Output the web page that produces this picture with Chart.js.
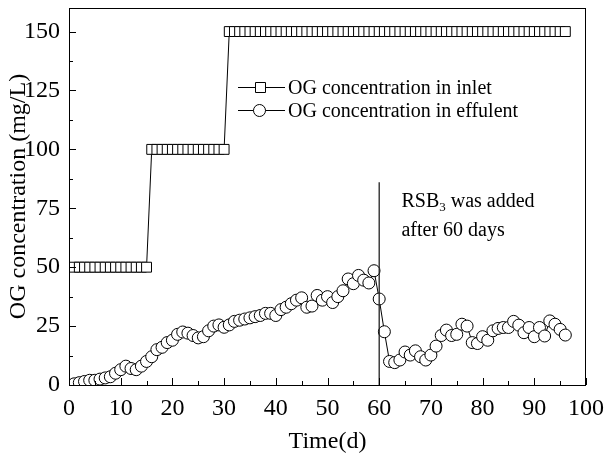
<!DOCTYPE html>
<html>
<head>
<meta charset="utf-8">
<script src="https://cdn.jsdelivr.net/npm/chart.js@4.4.1/dist/chart.umd.min.js"></script>
<style>
  html, body { margin: 0; padding: 0; background: #fff; }
</style>
</head>
<body>
<canvas id="ogChart" width="606" height="460"></canvas>
<script>
// days of operation (one sample per day)
const days = [1, 2, 3, 4, 5, 6, 7, 8, 9, 10, 11, 12, 13, 14, 15, 16, 17, 18, 19, 20,
  21, 22, 23, 24, 25, 26, 27, 28, 29, 30, 31, 32, 33, 34, 35, 36, 37, 38, 39, 40,
  41, 42, 43, 44, 45, 46, 47, 48, 49, 50, 51, 52, 53, 54, 55, 56, 57, 58, 59, 60,
  61, 62, 63, 64, 65, 66, 67, 68, 69, 70, 71, 72, 73, 74, 75, 76, 77, 78, 79, 80,
  81, 82, 83, 84, 85, 86, 87, 88, 89, 90, 91, 92, 93, 94, 95, 96];

const inlet = [50, 50, 50, 50, 50, 50, 50, 50, 50, 50, 50, 50, 50, 50, 50,
  100, 100, 100, 100, 100, 100, 100, 100, 100, 100, 100, 100, 100, 100, 100,
  150, 150, 150, 150, 150, 150, 150, 150, 150, 150, 150, 150, 150, 150, 150,
  150, 150, 150, 150, 150, 150, 150, 150, 150, 150, 150, 150, 150, 150, 150,
  150, 150, 150, 150, 150, 150, 150, 150, 150, 150, 150, 150, 150, 150, 150,
  150, 150, 150, 150, 150, 150, 150, 150, 150, 150, 150, 150, 150, 150, 150,
  150, 150, 150, 150, 150, 150];

const effluent = [0.5, 1, 1.5, 2, 2, 2.5, 3, 3.5, 5, 6.5,
  8, 7, 6.5, 8, 10, 12, 15, 16, 18, 19,
  21.5, 22.5, 22, 21, 20, 20.5, 23, 25, 25.5, 24.5,
  25.5, 27, 27.5, 28, 28.5, 29, 29.5, 30.4, 30.4, 29.5,
  32, 33, 34.5, 36, 37, 33, 33.5, 38, 36, 37.5,
  35, 37.5, 40, 45, 43, 46.5, 44.5, 43.3, 48.5, 36.5,
  22.6, 10, 9.5, 10.6, 14, 12.7, 14.5, 12, 10.6, 12.7,
  16.5, 21, 23.3, 21, 21.5, 25.8, 25, 18, 17.6, 20.5,
  19, 23, 24, 24.4, 24.4, 27, 25.4, 22.2, 24.4, 20.5,
  24.4, 20.8, 27.2, 25.8, 23.6, 21.2];

// vertical marker: RSB3 added on day 60
const markerDays = [60, 60];
const markerValues = [0, 86];

const xTicks = [0, 10, 20, 30, 40, 50, 60, 70, 80, 90, 100];
const yTicks = [0, 25, 50, 75, 100, 125, 150];

const seriesNames = ['OG concentration in inlet', 'OG concentration in effulent'];

const serif = "'Liberation Serif', 'Times New Roman', serif";
Chart.defaults.font.family = serif;
Chart.defaults.color = '#000';

function toPoints(xs, ys) {
  return xs.map((d, i) => ({ x: d, y: ys[i] }));
}

// frame, inward ticks, legend and note
const decorations = {
  id: 'decorations',
  afterDraw(chart) {
    const { ctx, chartArea: a, scales: { x, y } } = chart;
    ctx.save();
    ctx.strokeStyle = '#000';
    ctx.lineWidth = 1;
    ctx.strokeRect(a.left + 0.5, a.top + 0.5, a.right - a.left - 1, a.bottom - a.top);

    ctx.beginPath();
    xTicks.forEach((v, i) => {
      const px = Math.round(x.getPixelForValue(v)) + 0.5;
      ctx.moveTo(px, a.bottom); ctx.lineTo(px, a.bottom - 7);
      if (i < xTicks.length - 1) {
        const mx = Math.round(x.getPixelForValue((v + xTicks[i + 1]) / 2)) + 0.5;
        ctx.moveTo(mx, a.bottom); ctx.lineTo(mx, a.bottom - 4);
      }
    });
    yTicks.forEach((v, i) => {
      const py = Math.round(y.getPixelForValue(v)) + 0.5;
      ctx.moveTo(a.left, py); ctx.lineTo(a.left + 7, py);
      if (i < yTicks.length - 1) {
        const my = Math.round(y.getPixelForValue((v + yTicks[i + 1]) / 2)) + 0.5;
        ctx.moveTo(a.left, my); ctx.lineTo(a.left + 4, my);
      }
    });
    ctx.stroke();

    // legend
    const lx = a.left + 169, ly = a.top + 79;
    ctx.font = '20px ' + serif;
    ctx.textBaseline = 'middle';
    ctx.fillStyle = '#000';
    [0, 1].forEach(i => {
      const yy = ly + i * 23 + 0.5;
      ctx.beginPath();
      ctx.moveTo(lx, yy); ctx.lineTo(lx + 47, yy);
      ctx.stroke();
      ctx.fillStyle = '#fff';
      ctx.beginPath();
      if (i === 0) {
        ctx.rect(lx + 17.5, yy - 5, 10, 10);
      } else {
        ctx.arc(lx + 21.5, yy, 6, 0, Math.PI * 2);
      }
      ctx.fill(); ctx.stroke();
      ctx.fillStyle = '#000';
      ctx.fillText(seriesNames[i], lx + 50, yy + 1);
    });

    // note next to the marker line
    const nx = x.getPixelForValue(64.3);
    ctx.font = '20px ' + serif;
    ctx.fillText('RSB', nx, 202);
    let w = ctx.measureText('RSB').width;
    ctx.font = '13px ' + serif;
    ctx.fillText('3', nx + w, 208);
    w += ctx.measureText('3').width;
    ctx.font = '20px ' + serif;
    ctx.fillText(' was added', nx + w, 202);
    ctx.fillText('after 60 days', nx, 231);
    ctx.restore();
  }
};

new Chart(document.getElementById('ogChart'), {
  type: 'line',
  data: {
    datasets: [{
      label: 'RSB3 added',
      data: toPoints(markerDays, markerValues),
      borderColor: '#222',
      borderWidth: 1.3,
      pointRadius: 0,
      order: 0
    }, {
      label: seriesNames[1],
      data: toPoints(days, effluent),
      borderColor: '#000',
      borderWidth: 1,
      pointStyle: 'circle',
      pointRadius: 6,
      pointBackgroundColor: '#fff',
      pointBorderColor: '#000',
      pointBorderWidth: 1,
      order: 1
    }, {
      label: seriesNames[0],
      data: toPoints(days, inlet),
      borderColor: '#000',
      borderWidth: 1,
      pointStyle: 'rect',
      pointRadius: 7,
      pointBackgroundColor: '#fff',
      pointBorderColor: '#000',
      pointBorderWidth: 1,
      order: 2
    }]
  },
  options: {
    responsive: false,
    animation: false,
    layout: { padding: { top: 7, right: 20, left: 0, bottom: 0 } },
    plugins: { legend: { display: false }, tooltip: { enabled: false } },
    scales: {
      x: {
        type: 'linear',
        min: 0,
        max: 100,
        afterBuildTicks: s => { s.ticks = xTicks.map(v => ({ value: v })); },
        afterFit: s => { s.height = 75; s.paddingLeft = 0; s.paddingRight = 0; },
        grid: { display: false, drawTicks: false },
        border: { display: false },
        ticks: { font: { size: 24 }, padding: 9, maxRotation: 0 },
        title: { display: true, text: 'Time(d)', font: { size: 24 }, padding: { top: 0, bottom: 4 } }
      },
      y: {
        type: 'linear',
        min: 0,
        max: 160,
        afterBuildTicks: s => { s.ticks = yTicks.map(v => ({ value: v })); },
        afterFit: s => { s.width = 69; s.paddingTop = 0; s.paddingBottom = 0; },
        grid: { display: false, drawTicks: false },
        border: { display: false },
        ticks: { font: { size: 24 }, padding: 9 },
        title: { display: true, text: 'OG concentration (mg/L)', font: { size: 24 }, padding: { top: 4, bottom: 0 } }
      }
    }
  },
  plugins: [decorations]
});
</script>
</body>
</html>
